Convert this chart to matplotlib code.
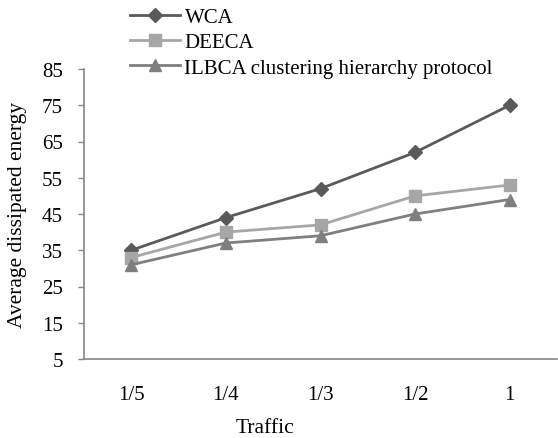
import matplotlib.pyplot as plt

plt.rcParams['font.family'] = ['Liberation Serif', 'DejaVu Serif']

traffic = ['1/5', '1/4', '1/3', '1/2', '1']
wca = [35, 44, 52, 62, 75]
deeca = [33, 40, 42, 50, 53]
ilbca = [31, 37, 39, 45, 49]

fig = plt.figure(figsize=(5.58, 4.39), dpi=100)
ax = fig.add_axes([84 / 558, 1 - 360 / 439, (557 - 84) / 558, (360 - 70) / 439])

x = range(len(traffic))
ax.plot(x, wca, color='#5a5a5a', marker='D', markersize=7, linewidth=2, label='WCA')
ax.plot(x, deeca, color='#a6a6a6', marker='s', markersize=8, linewidth=2, label='DEECA')
ax.plot(x, ilbca, color='#7f7f7f', marker='^', markersize=9, linewidth=2,
        label='ILBCA clustering hierarchy protocol')

ax.set_xlim(-0.5, len(traffic) - 0.5)
ax.set_ylim(5, 85)
ax.set_yticks(range(5, 86, 10))
ax.set_xticks(list(x))
ax.set_xticklabels(traffic)

for side in ['top', 'right']:
    ax.spines[side].set_visible(False)
for side in ['left', 'bottom']:
    ax.spines[side].set_color('#868686')
    ax.spines[side].set_linewidth(1.2)
ax.tick_params(axis='y', color='#868686', length=4.3, width=1, labelsize=15, pad=11)
ax.tick_params(axis='x', length=0, labelsize=15, pad=19)

ax.set_ylabel('Average dissipated energy', fontsize=15.5)
ax.yaxis.set_label_coords(-0.12, 0.5)
ax.set_xlabel('Traffic', fontsize=15.5)
ax.xaxis.set_label_coords((265 - 84) / 473, -0.205)

fig.legend(loc='upper left', bbox_to_anchor=(122 / 558, 1), frameon=False,
           fontsize=15, handlelength=2.4, labelspacing=0.28, handletextpad=0.2,
           borderaxespad=0)

fig.savefig('out.png', dpi=100)
